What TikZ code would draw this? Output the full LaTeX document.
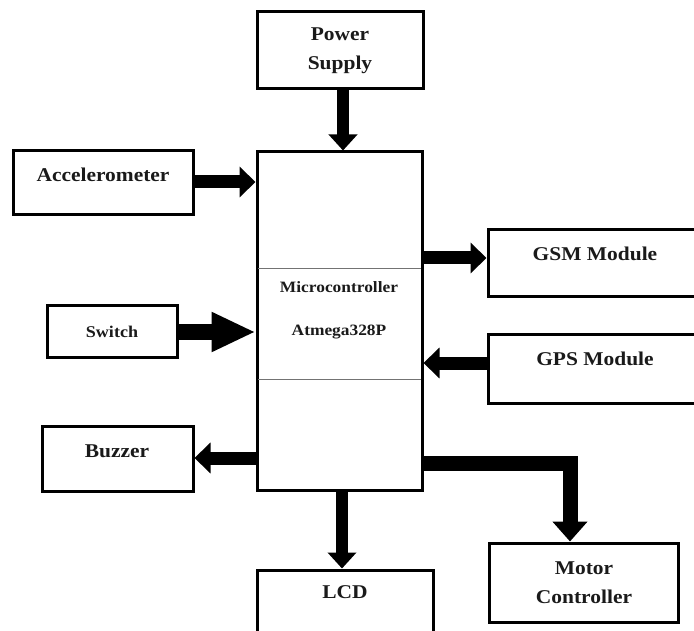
\documentclass[tikz,border=0pt]{standalone}
\usepackage{fontspec}
\setmainfont{Liberation Serif}[FakeStretch=1.1]
\usetikzlibrary{arrows.meta}
\definecolor{ink}{HTML}{1A1A1A}
\tikzset{
  blk/.style={draw=black, line width=3pt, fill=white, rectangle, inner sep=0pt},
  lbl/.style={font=\fontsize{19.5}{29}\selectfont\bfseries, text=ink, align=center, inner sep=0pt},
  slbl/.style={font=\fontsize{15.8}{20}\selectfont\bfseries, text=ink, align=center, inner sep=0pt},
  conn/.style={line width=#1, line cap=butt, line join=miter},
  tipA/.style={-{Triangle[width=30pt,length=16pt]}},
}
\begin{document}
\begin{tikzpicture}[x=1pt,y=-1pt]
\useasboundingbox (0,0) rectangle (694,631);
% boxes
\node[blk, minimum width=166pt, minimum height=77pt] (ps) at (340,50.5) {};
\node[blk, minimum width=165pt, minimum height=338pt] (mcu) at (339.5,321) {};
\node[blk, minimum width=180pt, minimum height=64pt] (acc) at (103,183) {};
\node[blk, minimum width=130pt, minimum height=51pt] (sw) at (112,331.5) {};
\node[blk, minimum width=232pt, minimum height=67pt] (gsm) at (604,263.5) {};
\node[blk, minimum width=232pt, minimum height=68pt] (gps) at (604,369) {};
\node[blk, minimum width=151pt, minimum height=65pt] (buz) at (117.5,458.5) {};
\node[blk, minimum width=176pt, minimum height=90pt] (lcd) at (345,615) {};
\node[blk, minimum width=189pt, minimum height=79pt] (mot) at (583.5,582.5) {};
% band in microcontroller
\coordinate (b1w) at (258,268); \coordinate (b1e) at (421,268);
\coordinate (b2w) at (258,379); \coordinate (b2e) at (421,379);
\draw[line width=0.9pt, black!55] (b1w) -- (b1e) (b2w) -- (b2e);
% labels
\node[lbl] (tps) at (340,50.5) {Power\\Supply};
\node[slbl] (tmc1) at (339,287) {Microcontroller};
\node[slbl] (tmc2) at (339,332) {Atmega328P};
\node[lbl] (tacc) at (103,175) {Accelerometer};
\node[slbl, font=\fontsize{16.4}{20}\selectfont\bfseries] (tsw) at (112,332) {Switch};
\node[lbl] (tgsm) at (595,254) {GSM Module};
\node[lbl] (tgps) at (595,359) {GPS Module};
\node[lbl] (tbuz) at (117,451) {Buzzer};
\node[lbl] (tlcd) at (345,592) {LCD};
\node[lbl] (tmot) at (584,582.5) {Motor\\Controller};
% connectors
\draw[conn=12pt, -{Triangle[width=28pt,length=16pt]}] (ps.south -| 343,0) -- (mcu.north -| 343,0);
\draw[conn=13pt, tipA] (acc.east |- 0,182) -- (mcu.west |- 0,182);
\draw[conn=15pt, -{Triangle[width=37pt,length=44pt]}] (sw.east |- 0,332) -- (mcu.west |- 0,332);
\draw[conn=13pt, tipA] (mcu.east |- 0,258) -- (gsm.west |- 0,258);
\draw[conn=13pt, tipA] (gps.west |- 0,363) -- (mcu.east |- 0,363);
\draw[conn=13pt, tipA] (mcu.west |- 0,458) -- (buz.east |- 0,458);
\draw[conn=12pt, -{Triangle[width=28pt,length=16pt]}] (mcu.south -| 342,0) -- (lcd.north -| 342,0);
\coordinate (mbend) at (570,463);
\draw[conn=15pt, -{Triangle[width=34pt,length=20pt]}] (mcu.east |- mbend) -- (mbend) -- (mot.north -| mbend);
\end{tikzpicture}
\end{document}
